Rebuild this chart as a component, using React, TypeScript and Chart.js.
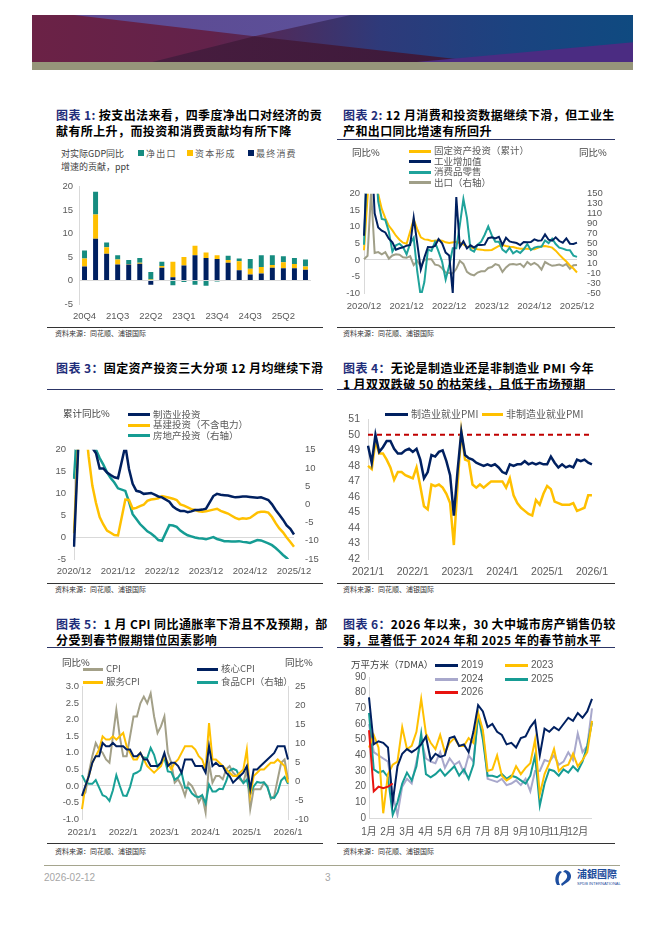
import React, { useEffect, useRef } from 'react';
import { Chart, registerables } from 'chart.js';
Chart.register(...registerables);

const LATIN = '"Liberation Sans", Arial, "Noto Sans CJK SC", sans-serif';
const CJK = '"Noto Sans CJK SC", "Noto Sans", sans-serif';
const NAVY = '#002060';
const GOLD = '#FFC000';
const TICK = '#595959';
const AXIS = '#D9D9D9';

// ---------- Chart 1: contribution to GDP growth (ppt)
const quarters = ['20Q4','21Q1','21Q2','21Q3','21Q4','22Q1','22Q2','22Q3','22Q4','23Q1','23Q2','23Q3','23Q4','24Q1','24Q2','24Q3','24Q4','25Q1','25Q2','25Q3','25Q4'];
const consumption = [3.0, 8.9, 5.7, 3.4, 3.4, 3.6, -0.9, 2.7, 0.7, 3.2, 5.4, 4.8, 4.6, 3.8, 2.2, 1.3, 1.5, 2.7, 2.6, 2.6, 2.3];
const capitalFormation = [1.7, 5.2, 1.4, 1.1, 0.1, 0.2, 0.2, 0.4, 3.3, 1.8, 2.0, 1.2, 0.8, 0.6, 1.9, 1.2, 1.4, 0.6, 1.3, 0.9, 0.7];
const netExports = [1.7, 4.8, 1.0, 0.9, 0.9, 1.0, 1.6, 0.9, -1.0, -0.3, -0.9, -1.1, -0.2, 0.9, 0.6, 2.1, 2.5, 2.1, 1.3, 1.3, 1.5];

// ---------- Chart 2: monthly 2020/12 - 2025/12
const ticks2 = ['2020/12','2021/12','2022/12','2023/12','2024/12','2025/12'];
const fai2 = [2.9, null, 35.0, 25.6, 19.9, 15.4, 12.6, 10.3, 8.9, 7.3, 6.1, 5.2, 4.9,
  null, 12.2, 9.3, 6.8, 6.2, 6.1, 5.7, 5.8, 5.9, 5.8, 5.3, 5.1,
  null, 5.5, 5.1, 4.7, 4.0, 3.8, 3.4, 3.2, 3.1, 2.9, 2.9, 3.0,
  null, 4.2, 4.5, 4.2, 4.0, 3.9, 3.6, 3.4, 3.4, 3.4, 3.3, 3.2,
  null, 4.1, 4.2, 4.0, 3.7, 2.8, 1.6, 0.5, -0.5, -1.7, -2.6, -3.8];
const industry2 = [7.3, 32, 35.1, 14.1, 9.8, 8.8, 8.3, 6.4, 5.3, 3.1, 3.5, 3.8, 4.3,
  4.5, 12.8, 5.0, -2.9, 0.7, 3.9, 3.8, 4.2, 6.3, 5.0, 2.2, 1.3,
  -10, 19, 3.9, 5.6, 3.5, 4.4, 3.7, 4.5, 4.5, 4.6, 6.6, 6.8,
  6.5, 7.0, 4.5, 6.7, 5.6, 5.3, 5.1, 4.5, 5.4, 5.3, 5.4, 6.2,
  5.8, 5.9, 7.7, 6.1, 5.8, 6.8, 5.7, 5.2, 6.5, 4.9, 4.8, 5.2];
const retail2 = [4.6, 33.8, 33.8, 34.2, 17.7, 12.4, 12.1, 8.5, 2.5, 4.4, 4.9, 3.9, 1.7,
  5.0, 6.7, -3.5, -11.1, -6.7, 3.1, 2.7, 5.4, 2.5, -0.5, -5.9, -1.8,
  3.5, 3.5, 10.6, 18.4, 12.7, 3.1, 2.5, 4.6, 5.5, 7.6, 10.1, 7.4,
  5.5, 5.5, 3.1, 2.3, 3.7, 2.0, 2.7, 2.1, 3.2, 4.8, 3.0, 3.7,
  4.0, 4.0, 5.9, 5.1, 6.4, 4.8, 3.7, 3.4, 3.0, 2.9, 1.3, 0.9];
const exports2 = [18.1, 25, 154.9, 30.6, 32.3, 27.9, 32.2, 19.3, 25.6, 28.1, 27.1, 22.0, 20.9,
  24.1, 6.2, 14.7, 3.9, 16.9, 17.9, 18.0, 7.1, 5.7, -0.3, -8.7, -9.9,
  -10.5, -1.3, 14.8, 8.5, -7.5, -12.4, -14.5, -8.8, -6.2, -6.4, 0.5, 2.3,
  8.1, 5.6, -7.5, 1.5, 7.6, 8.6, 7.0, 8.7, 2.4, 12.7, 6.7, 10.7,
  6.0, -3.0, 12.4, 8.1, 4.8, 5.8, 7.2, 4.4, 8.3, -1.1, 5.9, 6.6];

// ---------- Chart 3: FAI components, cumulative YoY, 2020/12 - 2025/12
const ticks3 = ['2020/12','2021/12','2022/12','2023/12','2024/12','2025/12'];
const mfgInv = [-2.2, null, 37.3, 29.8, 23.8, 20.4, 19.2, 15.7, 15.7, 14.8, 14.2, 13.7, 13.5,
  null, 20.9, 15.6, 12.2, 10.6, 10.4, 9.9, 10.0, 10.1, 9.7, 9.3, 9.1,
  null, 8.1, 7.0, 6.4, 6.0, 6.0, 5.7, 5.9, 6.2, 6.2, 6.3, 6.5,
  null, 9.4, 9.9, 9.7, 9.6, 9.5, 9.3, 9.1, 9.2, 9.3, 9.3, 9.2,
  null, 9.0, 9.1, 8.8, 8.5, 7.5, 6.2, 5.1, 4.0, 2.7, 1.9, 0.6];
const infraInv = [0.9, null, 36.6, 26.8, 18.4, 11.8, 7.8, 4.6, 2.9, 1.5, 1.0, 0.5, 0.4,
  null, 8.6, 8.5, 6.5, 6.7, 7.1, 7.4, 8.3, 8.6, 8.7, 8.9, 9.4,
  null, 9.0, 8.8, 8.5, 7.5, 7.2, 6.8, 6.4, 6.2, 5.9, 5.8, 5.9,
  null, 6.3, 6.5, 6.0, 5.7, 5.4, 4.9, 4.4, 4.1, 4.3, 4.2, 4.4,
  null, 5.6, 5.8, 5.8, 5.6, 4.6, 3.2, 2.0, 1.1, -0.1, -1.1, -2.2];
const propertyInv = [7.0, null, 38.3, 25.6, 21.6, 18.3, 15.0, 12.7, 10.9, 8.8, 7.2, 6.0, 4.4,
  null, 3.7, 0.7, -2.7, -4.0, -5.4, -6.4, -7.4, -8.0, -8.8, -9.8, -10.0,
  null, -5.7, -5.8, -6.2, -7.2, -7.9, -8.5, -8.8, -9.1, -9.3, -9.4, -9.6,
  null, -9.0, -9.5, -9.8, -10.1, -10.1, -10.2, -10.2, -10.1, -10.3, -10.4, -10.6,
  null, -9.8, -9.9, -10.3, -10.7, -11.2, -12.0, -12.9, -13.9, -14.7, -15.9, -17.2];

// ---------- Chart 4: employment PMI, 2021/1 - 2026/1
const ticks4 = ['2021/1','2022/1','2023/1','2024/1','2025/1','2026/1'];
const pmiThreshold = 50;
const mfgEmpPmi = [49.3, 48.2, 50.0, 48.9, 49.2, 49.6, 49.6, 49.1, 48.8, 48.8, 49.0, 49.1,
  48.9, 49.1, 48.4, 47.2, 47.6, 48.7, 48.6, 48.9, 49.0, 48.3, 47.4, 44.8,
  47.7, 50.2, 48.7, 48.5, 48.4, 48.2, 48.1, 48.0, 48.1, 48.0, 48.1, 47.9,
  47.6, 47.5, 48.1, 48.0, 48.1, 48.1, 48.3, 48.1, 48.2, 48.1, 48.2, 48.1,
  48.1, 48.6, 48.2, 47.9, 48.1, 47.9, 48.0, 47.9, 48.4, 48.3, 48.4, 48.2,
  48.1];
const nonMfgEmpPmi = [48.0, 47.8, 49.6, 48.8, 48.8, 48.4, 47.9, 47.1, 47.6, 47.6, 47.4, 47.3,
  47.2, 47.9, 46.7, 45.4, 45.2, 46.8, 46.7, 46.8, 46.6, 46.2, 45.6, 42.9,
  46.8, 50.2, 48.4, 48.3, 46.8, 46.6, 46.8, 46.6, 46.8, 47.0, 47.0, 47.0,
  47.0, 46.6, 47.2, 46.1, 45.6, 45.3, 45.1, 44.9, 44.8, 45.8, 45.5, 46.2,
  46.7, 46.5, 45.7, 45.6, 45.5, 45.5, 45.5, 45.6, 45.1, 45.2, 45.3, 46.1,
  46.1];

// ---------- Chart 5: CPI, 2021/1 - 2026/1
const ticks5 = ['2021/1','2022/1','2023/1','2024/1','2025/1','2026/1'];
const cpi = [-0.3, -0.2, 0.4, 0.9, 1.3, 1.1, 1.0, 0.8, 0.7, 1.5, 2.3, 1.5,
  0.9, 0.9, 1.5, 2.1, 2.1, 2.5, 2.7, 2.5, 2.8, 2.1, 1.6, 1.8,
  2.1, 1.0, 0.7, 0.1, 0.2, 0.0, -0.3, 0.1, 0.0, -0.2, -0.5, -0.3,
  -0.8, 0.7, 0.1, 0.3, 0.3, 0.2, 0.5, 0.6, 0.4, 0.3, 0.2, 0.1,
  0.5, -0.7, -0.1, -0.1, -0.1, 0.1, 0.0, -0.4, -0.3, 0.2, 0.7, 0.8,
  0.2];
const coreCpi = [-0.3, 0.0, 0.3, 0.7, 0.9, 0.9, 1.3, 1.2, 1.2, 1.3, 1.2, 1.2,
  1.2, 1.1, 1.1, 0.9, 0.9, 1.0, 0.8, 0.8, 0.6, 0.6, 0.6, 0.7,
  1.0, 0.6, 0.7, 0.7, 0.6, 0.4, 0.8, 0.8, 0.8, 0.6, 0.6, 0.6,
  0.4, 1.2, 0.6, 0.7, 0.6, 0.6, 0.4, 0.3, 0.1, 0.2, 0.3, 0.4,
  0.6, -0.1, 0.5, 0.5, 0.6, 0.7, 0.8, 0.9, 1.0, 1.2, 1.2, 1.2,
  0.8];
const serviceCpi = [-0.7, 0.0, 0.3, 0.7, 0.9, 1.1, 1.5, 1.4, 1.4, 1.5, 1.4, 1.5,
  1.6, 1.2, 1.0, 0.8, 0.8, 1.0, 0.8, 0.6, 0.5, 0.4, 0.5, 0.6,
  0.9, 0.7, 0.5, 0.7, 0.8, 1.0, 1.2, 1.2, 1.2, 1.1, 0.9, 0.8,
  0.5, 1.9, 0.8, 0.8, 0.7, 0.6, 0.5, 0.4, 0.3, 0.3, 0.4, 0.5,
  1.1, -0.3, 0.3, 0.4, 0.5, 0.5, 0.6, 0.7, 0.7, 0.8, 0.7, 0.6,
  0.1];
const foodCpi = [1.6, -0.2, -0.7, -0.7, 0.3, -1.7, -3.7, -4.1, -5.2, -2.4, 1.6, -1.2,
  -3.8, -3.9, -1.5, 1.9, 2.3, 2.9, 6.3, 6.1, 8.8, 7.0, 3.7, 4.8,
  6.2, 2.6, 2.4, 0.4, 1.0, 2.3, -1.7, -1.7, -3.2, -4.0, -4.2, -3.7,
  -5.9, -0.9, -2.7, -2.7, -2.0, -2.1, 0.0, 2.8, 3.3, 2.9, 1.0, -0.5,
  0.4, -3.3, -1.4, -0.2, -0.4, -0.3, -1.6, -4.3, -4.4, -2.9, 0.2, 1.1,
  -0.7];

// ---------- Chart 6: 30-city property sales (10k sqm, 7DMA), 4 points per month
const months6 = ['1月','2月','3月','4月','5月','6月','7月','8月','9月','10月','11月','12月'];
const sales2019 = [77, 47, 49, 48, 45, 10, 33, 41, 44, 42, 44, 47, 52, 37, 41, 39, 40, 51, 52, 46, 47, 42, 55, 72, 68, 58, 60, 55, 53, 47, 48, 45, 51, 52, 58, 62, 40, 57, 55, 58, 56, 60, 64, 62, 67, 64, 68, 76];
const sales2023 = [45, 53, 45, 3, 28, 34, 36, 58, 44, 46, 55, 76, 54, 48, 44, 53, 42, 48, 51, 46, 46, 51, 48, 67, 56, 30, 31, 40, 27, 24, 26, 33, 28, 32, 35, 50, 15, 28, 35, 44, 30, 33, 34, 41, 33, 37, 42, 62];
const sales2024 = [60, 42, 40, 38, 36, 15, 2, 20, 25, 22, 36, 50, 38, 36, 35, 42, 32, 38, 34, 36, 29, 40, 36, 66, 55, 25, 24, 23, 25, 21, 22, 24, 21, 25, 17, 30, 30, 37, 36, 40, 34, 36, 42, 37, 54, 42, 46, 70];
const sales2025 = [67, 31, 29, 30, 26, 2, 10, 22, 29, 24, 33, 54, 28, 26, 28, 31, 27, 30, 33, 27, 31, 25, 34, 66, 50, 27, 27, 26, 28, 25, 27, 26, 24, 22, 27, 40, 8, 22, 31, 30, 27, 31, 29, 33, 30, 36, 46, 61];
const sales2026 = [56, 17, 20, 19, 20, 22];

// ---------- helpers
const idx = (n: number) => Array.from({ length: n }, (_, i) => String(i));
const tf = (size: number) => ({ family: LATIN, size });
const zeroGrid = { drawTicks: false, color: (c: any) => (c.tick && c.tick.value === 0 ? AXIS : 'rgba(0,0,0,0)') };
const noGrid = { display: false, drawTicks: false };
const line = (label: string, data: any[], color: string, width: number, yAxisID = 'y') => ({
  label, data, borderColor: color, backgroundColor: color, borderWidth: width,
  pointRadius: 0, tension: 0, yAxisID, spanGaps: true,
});
const baseOpts = (padding: any, scales: any, plugins: any = {}) => ({
  animation: false, responsive: true, maintainAspectRatio: false,
  layout: { padding },
  plugins: { legend: { display: false }, tooltip: { enabled: false }, ...plugins },
  scales,
});
const catX = (every: number, labels: string[], h: number, pad: number, size: number, border = false) => ({
  grid: noGrid, border: { display: border, color: AXIS },
  ticks: { autoSkip: false, maxRotation: 0, minRotation: 0, padding: pad, color: TICK, font: tf(size),
    callback: (_v: any, i: number) => (i % every === 0 ? labels[i / every] : '') },
  afterFit: (s: any) => { s.height = h; },
});
const yLeft = (min: number, max: number, step: number, w: number, pad: number, size: number, extra: any = {}) => ({
  position: 'left', min, max,
  ticks: { autoSkip: false, stepSize: step, padding: pad, color: TICK, font: tf(size), ...(extra.ticks || {}) },
  grid: extra.grid || zeroGrid, border: { display: true, color: AXIS },
  afterFit: (s: any) => { s.width = w; },
});
const yRight = (min: number, max: number, step: number, w: number, pad: number, size: number, border = false) => ({
  position: 'right', min, max,
  ticks: { autoSkip: false, stepSize: step, padding: pad, color: TICK, font: tf(size) },
  grid: noGrid, border: { display: border, color: AXIS },
  afterFit: (s: any) => { s.width = w; },
});

const make1 = () => ({
  type: 'bar',
  data: {
    labels: quarters,
    datasets: [
      { label: '最终消费', data: consumption, backgroundColor: NAVY, barPercentage: 0.45, categoryPercentage: 1 },
      { label: '资本形成', data: capitalFormation, backgroundColor: GOLD, barPercentage: 0.45, categoryPercentage: 1 },
      { label: '净出口', data: netExports, backgroundColor: '#168C80', barPercentage: 0.45, categoryPercentage: 1 },
    ],
  },
  options: baseOpts({ top: 8, right: 9, left: 0, bottom: 0 }, {
    x: { stacked: true, ...catX(3, quarters.filter((_, i) => i % 3 === 0), 21, 7, 9.5) },
    y: { stacked: true, ...yLeft(-5, 20, 5, 32, 6, 9.5) },
  }),
});

const make2 = () => ({
  type: 'line',
  data: {
    labels: idx(61),
    datasets: [
      line('工业增加值', industry2, NAVY, 2),
      line('消费品零售', retail2, '#1FA39B', 2),
      line('固定资产投资（累计）', fai2, GOLD, 2),
      line('出口（右轴）', exports2, '#A09F88', 2, 'y1'),
    ],
  },
  options: baseOpts({ top: 8, right: 0, left: 0, bottom: 0 }, {
    x: catX(12, ticks2, 27, 8, 9.5),
    y: yLeft(-10, 20, 5, 27, 4, 9.5),
    y1: yRight(-50, 150, 20, 38, 10, 9.5),
  }),
});

const make3 = () => ({
  type: 'line',
  data: {
    labels: idx(61),
    datasets: [
      line('制造业投资', mfgInv, NAVY, 2.5),
      line('基建投资（不含电力）', infraInv, GOLD, 2.5),
      line('房地产投资（右轴）', propertyInv, '#159C93', 2.5, 'y1'),
    ],
  },
  options: baseOpts({ top: 8, right: 0, left: 0, bottom: 0 }, {
    x: catX(12, ticks3, 23, 7, 9.5),
    y: yLeft(-5, 20, 5, 27, 8, 9.5),
    y1: yRight(-15, 15, 5, 29, 11, 9.5),
  }),
});

const thresholdPlugin = {
  id: 'threshold',
  beforeDatasetsDraw(chart: any) {
    const y = chart.scales.y.getPixelForValue(pmiThreshold);
    const { left, right } = chart.chartArea;
    const ctx = chart.ctx;
    ctx.save();
    ctx.strokeStyle = '#C00000';
    ctx.lineWidth = 2;
    ctx.setLineDash([5, 4]);
    ctx.beginPath();
    ctx.moveTo(left, y);
    ctx.lineTo(right, y);
    ctx.stroke();
    ctx.restore();
  },
};

const make4 = () => ({
  type: 'line',
  data: {
    labels: idx(61),
    datasets: [
      line('制造业就业PMI', mfgEmpPmi, NAVY, 2.5),
      line('非制造业就业PMI', nonMfgEmpPmi, GOLD, 2.5),
    ],
  },
  options: baseOpts({ top: 8, right: 20, left: 0, bottom: 0 }, {
    x: catX(12, ticks4, 23, 7, 10.5),
    y: yLeft(42, 51, 1, 31, 8, 10.5, { grid: noGrid }),
  }),
  plugins: [thresholdPlugin],
});

const make5 = () => ({
  type: 'line',
  data: {
    labels: idx(61),
    datasets: [
      line('核心CPI', coreCpi, NAVY, 2),
      line('服务CPI', serviceCpi, GOLD, 2),
      line('食品CPI（右轴）', foodCpi, '#18A096', 2, 'y1'),
      line('CPI', cpi, '#A3A088', 2),
    ],
  },
  options: baseOpts({ top: 8, right: 0, left: 0, bottom: 0 }, {
    x: catX(12, ticks5, 23, 8, 9.5),
    y: yLeft(-1, 3, 0.5, 35, 3, 9.5, { ticks: { callback: (v: any) => Number(v).toFixed(1) } }),
    y1: yRight(-10, 25, 5, 35, 7, 9.5, true),
  }),
});

const make6 = () => ({
  type: 'line',
  data: {
    labels: idx(48),
    datasets: [
      line('2026', sales2026, '#E8130F', 2),
      line('2019', sales2019, NAVY, 2),
      line('2023', sales2023, GOLD, 2),
      line('2025', sales2025, '#169C94', 2),
      line('2024', sales2024, '#A8A8CC', 2),
    ],
  },
  options: baseOpts({ top: 8, right: 23, left: 0, bottom: 0 }, {
    x: catX(4, months6, 24, 8, 10),
    y: yLeft(0, 90, 10, 32, 3, 10),
  }),
});

function ChartBox({ x, y, w, h, make }: { x: number; y: number; w: number; h: number; make: () => any }) {
  const ref = useRef<HTMLCanvasElement | null>(null);
  useEffect(() => {
    if (!ref.current) return;
    const c = new Chart(ref.current, make());
    return () => c.destroy();
  }, []);
  return (
    <div style={{ position: 'absolute', left: x, top: y, width: w, height: h }}>
      <canvas ref={ref} />
    </div>
  );
}

function T({ x, y, s = 9, c = '#595959', f = CJK, w = 400, ls = 0, children }: any) {
  return (
    <div style={{ position: 'absolute', left: x, top: y - (s + 2) / 2, fontSize: s, lineHeight: `${s + 2}px`,
      color: c, fontFamily: f, fontWeight: w, letterSpacing: ls, whiteSpace: 'nowrap', zIndex: 2 }}>
      {children}
    </div>
  );
}

function Bar({ x, y, w, h, c }: any) {
  return <div style={{ position: 'absolute', left: x, top: y, width: w, height: h, background: c, zIndex: 2 }} />;
}

function LegLine({ x, y, w = 22, t = 3, c }: any) {
  return <Bar x={x} y={y - t / 2} w={w} h={t} c={c} />;
}

function Title({ x, y, num, sep, lines }: any) {
  return (
    <div style={{ position: 'absolute', left: x, top: y - 8.5, fontFamily: CJK, fontWeight: 700, fontSize: 12,
      lineHeight: '16.5px', letterSpacing: 0.4, color: '#000', whiteSpace: 'nowrap' }}>
      {lines.map((ln: string, i: number) => (
        <div key={i}>
          {i === 0 && <span style={{ color: '#1F2E7A' }}>{`图表 ${num}${sep}`}</span>}
          {ln}
        </div>
      ))}
    </div>
  );
}

const SRC = '资料来源：同花顺、浦银国际';

export default function App() {
  return (
    <div style={{ position: 'absolute', left: 0, top: 0, width: 662, height: 936, background: '#fff', overflow: 'hidden' }}>
      {/* banner */}
      <div style={{ position: 'absolute', left: 32, top: 15, width: 601, height: 47, overflow: 'hidden',
        background: 'linear-gradient(90deg,#6B2246 0%,#62224A 30%,#2E3A7A 58%,#1B4380 80%,#0F4A80 100%)' }}>
        <div style={{ position: 'absolute', inset: 0, background: 'linear-gradient(90deg,#5E4890,#5A58A2)', clipPath: 'polygon(7% 0%, 53% 0%, 37% 45%)' }} />
        <div style={{ position: 'absolute', inset: 0, background: 'linear-gradient(90deg,#4C1E40,#361839)', clipPath: 'polygon(20% 100%, 37% 45%, 75% 100%)' }} />
        <div style={{ position: 'absolute', inset: 0, background: '#4B2C82', clipPath: 'polygon(64% 100%, 100% 58%, 100% 100%)' }} />
      </div>
      <Bar x={32} y={62} w={601} h={8} c="#96957A" />

      {/* ---------- Chart 1 ---------- */}
      <Title x={56} y={115} num="1" sep=": " lines={['按支出法来看，四季度净出口对经济的贡', '献有所上升，而投资和消费贡献均有所下降']} />
      <T x={61} y={153} s={9} c="#404040">对实际GDP同比</T>
      <T x={61} y={166} s={9} c="#404040">增速的贡献，ppt</T>
      <Bar x={138} y={150} w={6} h={6} c="#168C80" />
      <T x={146} y={153} s={9} ls={1.2}>净出口</T>
      <Bar x={187} y={150} w={6} h={6} c={GOLD} />
      <T x={195} y={153} s={9} ls={1.2}>资本形成</T>
      <Bar x={248} y={150} w={6} h={6} c={NAVY} />
      <T x={256} y={153} s={9} ls={1.2}>最终消费</T>
      <ChartBox x={47} y={175} w={273} h={150} make={make1} />
      <Bar x={47} y={327} w={276} h={1} c="#333" />
      <T x={55} y={333} s={7} c="#333">{SRC}</T>

      {/* ---------- Chart 2 ---------- */}
      <Title x={343} y={115} num="2" sep=": " lines={['12 月消费和投资数据继续下滑，但工业生', '产和出口同比增速有所回升']} />
      <Bar x={337} y={139} w={278} h={1} c="#2C3566" />
      <T x={352} y={153} s={9.5} c="#404040">同比%</T>
      <T x={579} y={153} s={9.5} c="#404040">同比%</T>
      <LegLine x={409} y={151} c={GOLD} />
      <T x={434} y={151} s={9.5}>固定资产投资（累计）</T>
      <LegLine x={409} y={161.5} c={NAVY} />
      <T x={434} y={161.5} s={9.5}>工业增加值</T>
      <LegLine x={409} y={172} c="#1FA39B" />
      <T x={434} y={172} s={9.5}>消费品零售</T>
      <LegLine x={409} y={182.5} c="#A09F88" />
      <T x={434} y={182.5} s={9.5}>出口（右轴）</T>
      <ChartBox x={337} y={178} w={278} h={142} make={make2} />
      <Bar x={337} y={327} w={278} h={1} c="#333" />
      <T x={343} y={333} s={7} c="#333">{SRC}</T>

      {/* ---------- Chart 3 ---------- */}
      <Title x={56} y={368} num="3" sep="：" lines={['固定资产投资三大分项 12 月均继续下滑']} />
      <Bar x={47} y={389} w={276} h={1} c="#2C3566" />
      <T x={63} y={414} s={9.5} c="#404040">累计同比%</T>
      <LegLine x={128} y={414.5} c={NAVY} />
      <T x={153} y={414.5} s={9.5}>制造业投资</T>
      <LegLine x={128} y={425} c={GOLD} />
      <T x={153} y={425} s={9.5}>基建投资（不含电力）</T>
      <LegLine x={128} y={435.5} c="#159C93" />
      <T x={153} y={435.5} s={9.5}>房地产投资（右轴）</T>
      <ChartBox x={47} y={433} w={276} h={149} make={make3} />
      <Bar x={47} y={583} w={276} h={1} c="#333" />
      <T x={55} y={589} s={7} c="#333">{SRC}</T>

      {/* ---------- Chart 4 ---------- */}
      <Title x={343} y={368} num="4" sep="：" lines={['无论是制造业还是非制造业 PMI 今年', '1 月双双跌破 50 的枯荣线，且低于市场预期']} />
      <Bar x={337} y={389} w={278} h={1} c="#2C3566" />
      <ChartBox x={337} y={405} w={278} h={177} make={make4} />
      <LegLine x={385} y={414} w={23} c={NAVY} />
      <T x={411} y={414} s={10}>制造业就业PMI</T>
      <LegLine x={482} y={414} w={21} c={GOLD} />
      <T x={506} y={414} s={10}>非制造业就业PMI</T>
      <Bar x={337} y={583} w={278} h={1} c="#333" />
      <T x={343} y={589} s={7} c="#333">{SRC}</T>

      {/* ---------- Chart 5 ---------- */}
      <Title x={56} y={624} num="5" sep="：" lines={['1 月 CPI 同比通胀率下滑且不及预期，部', '分受到春节假期错位因素影响']} />
      <Bar x={47} y={647} w={276} h={1} c="#2C3566" />
      <T x={62} y={663} s={9.5} c="#404040">同比%</T>
      <T x={285} y={663} s={9.5} c="#404040">同比%</T>
      <LegLine x={83} y={669} w={20} c="#A3A088" />
      <T x={106} y={669} s={9.5}>CPI</T>
      <LegLine x={83} y={682} w={20} c={GOLD} />
      <T x={106} y={682} s={9.5}>服务CPI</T>
      <LegLine x={197} y={669} w={21} c={NAVY} />
      <T x={221} y={669} s={9.5}>核心CPI</T>
      <LegLine x={197} y={682} w={21} c="#18A096" />
      <T x={221} y={682} s={9.5}>食品CPI（右轴）</T>
      <ChartBox x={47} y={674} w={276} h={168} make={make5} />
      <Bar x={47} y={843} w={276} h={1} c="#333" />
      <T x={55} y={851} s={7} c="#333">{SRC}</T>

      {/* ---------- Chart 6 ---------- */}
      <Title x={343} y={624} num="6" sep="：" lines={['2026 年以来，30 大中城市房产销售仍较', '弱，显著低于 2024 年和 2025 年的春节前水平']} />
      <Bar x={337} y={647} w={278} h={1} c="#2C3566" />
      <ChartBox x={337} y={668} w={278} h={174} make={make6} />
      <T x={351} y={665} s={9.5} c="#404040">万平方米（7DMA）</T>
      <LegLine x={435} y={665} w={23} c={NAVY} />
      <T x={461} y={665} s={10} f={LATIN}>2019</T>
      <LegLine x={505} y={665} w={23} c={GOLD} />
      <T x={531} y={665} s={10} f={LATIN}>2023</T>
      <LegLine x={435} y={679} w={23} c="#A8A8CC" />
      <T x={461} y={679} s={10} f={LATIN}>2024</T>
      <LegLine x={505} y={679} w={23} c="#169C94" />
      <T x={531} y={679} s={10} f={LATIN}>2025</T>
      <LegLine x={435} y={692} w={23} c="#E8130F" />
      <T x={461} y={692} s={10} f={LATIN}>2026</T>
      <Bar x={337} y={843} w={278} h={1} c="#333" />
      <T x={343} y={851} s={7} c="#333">{SRC}</T>

      {/* ---------- footer ---------- */}
      <Bar x={44} y={865} w={576} h={1} c="#A5A58E" />
      <T x={44} y={878} s={10} f={LATIN} c="#A6A6A6">2026-02-12</T>
      <T x={325} y={878} s={10} f={LATIN} c="#A6A6A6">3</T>
      <svg style={{ position: 'absolute', left: 553, top: 869, width: 22, height: 18 }} viewBox="0 0 22 18">
        <path d="M7 2 C2 4 1 12 4 16 L7 16 C5 12 5 6 9 3 Z" fill="#1D4EA0" />
        <path d="M12 1 C18 2 20 8 16 12 C14 14 11 15 9 17 L8 15 C11 12 15 10 14 6 C13 4 12 3 10 3 Z" fill="#1D4EA0" />
      </svg>
      <T x={577} y={874} s={10} w={700} c="#1D4C9C">浦銀國際</T>
      <T x={577} y={884} s={4} f={LATIN} c="#1D4C9C">SPDB INTERNATIONAL</T>
    </div>
  );
}
